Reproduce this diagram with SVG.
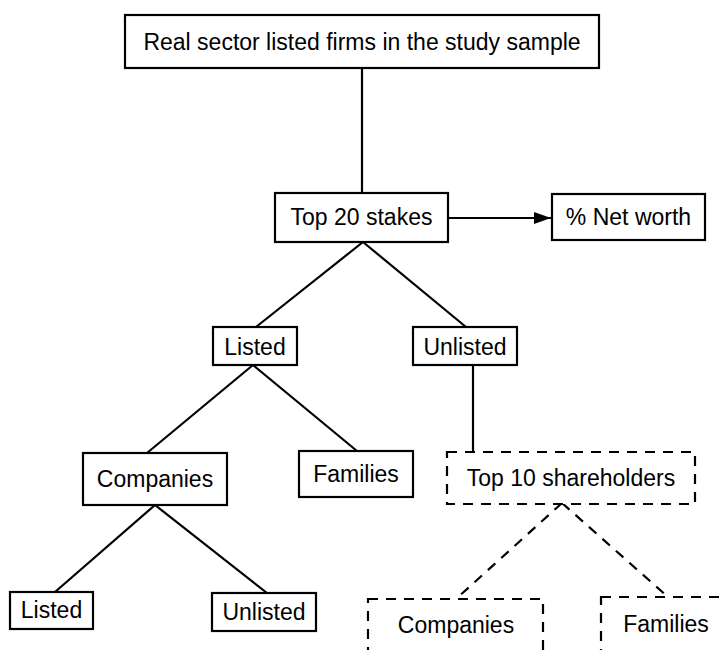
<svg xmlns="http://www.w3.org/2000/svg" width="725" height="650" viewBox="0 0 725 650">
  <style>
    .box { fill: #ffffff; stroke: #000000; stroke-width: 2.2; }
    .dash { fill: #ffffff; stroke: #000000; stroke-width: 2.2; stroke-dasharray: 10 8; }
    .lbl { font-family: "Liberation Sans", Arial, sans-serif; font-size: 23px; fill: #000000; text-anchor: middle; }
    .edge { stroke: #000000; stroke-width: 2.2; fill: none; }
    .edge-dash { stroke: #000000; stroke-width: 2.2; fill: none; stroke-dasharray: 10 8; }
  </style>
  <defs>
    <marker id="arrow" markerWidth="17" markerHeight="12" refX="17" refY="6" orient="auto" markerUnits="userSpaceOnUse" viewBox="0 0 17 12">
      <path d="M0,0 L17,6 L0,12 Z" fill="#000000"/>
    </marker>
  </defs>
  <rect width="725" height="650" fill="#ffffff"/>

  <g id="connectors">
    <line class="edge" x1="362" y1="68" x2="362" y2="193"/>
    <line class="edge" x1="448" y1="218" x2="551" y2="218" marker-end="url(#arrow)"/>
    <line class="edge" x1="363" y1="242" x2="256" y2="327"/>
    <line class="edge" x1="363" y1="242" x2="466" y2="327"/>
    <line class="edge" x1="253" y1="365" x2="147" y2="453"/>
    <line class="edge" x1="253" y1="365" x2="357" y2="451"/>
    <line class="edge" x1="473" y1="365" x2="473" y2="452"/>
    <line class="edge" x1="155" y1="505" x2="55" y2="592"/>
    <line class="edge" x1="155" y1="505" x2="267" y2="593"/>
    <line class="edge-dash" x1="562" y1="503" x2="456" y2="599"/>
    <line class="edge-dash" x1="562" y1="503" x2="668" y2="597"/>
  </g>

  <g id="node-sample">
    <rect class="box" x="125" y="15" width="474" height="53"/>
    <text class="lbl" x="362" y="50">Real sector listed firms in the study sample</text>
  </g>
  <g id="node-top20">
    <rect class="box" x="275" y="193" width="173" height="49"/>
    <text class="lbl" x="361.5" y="225">Top 20 stakes</text>
  </g>
  <g id="node-networth">
    <rect class="box" x="552" y="194" width="153" height="46"/>
    <text class="lbl" x="628.5" y="225">% Net worth</text>
  </g>
  <g id="node-listed">
    <rect class="box" x="213" y="327" width="84" height="38"/>
    <text class="lbl" x="255" y="355">Listed</text>
  </g>
  <g id="node-unlisted">
    <rect class="box" x="413" y="327" width="104" height="38"/>
    <text class="lbl" x="465" y="355">Unlisted</text>
  </g>
  <g id="node-companies">
    <rect class="box" x="83" y="453" width="144" height="52"/>
    <text class="lbl" x="155" y="487">Companies</text>
  </g>
  <g id="node-families">
    <rect class="box" x="299" y="451" width="114" height="46"/>
    <text class="lbl" x="356" y="482">Families</text>
  </g>
  <g id="node-top10">
    <rect class="dash" x="447" y="452" width="248" height="52"/>
    <text class="lbl" x="571" y="486">Top 10 shareholders</text>
  </g>
  <g id="node-companies-listed">
    <rect class="box" x="10" y="592" width="83" height="37"/>
    <text class="lbl" x="51.5" y="618">Listed</text>
  </g>
  <g id="node-companies-unlisted">
    <rect class="box" x="212" y="593" width="104" height="38"/>
    <text class="lbl" x="264" y="620">Unlisted</text>
  </g>
  <g id="node-sh-companies">
    <rect class="dash" x="368" y="599" width="175" height="70"/>
    <text class="lbl" x="456" y="633">Companies</text>
  </g>
  <g id="node-sh-families">
    <rect class="dash" x="601" y="597" width="150" height="70"/>
    <text class="lbl" x="666" y="632">Families</text>
  </g>
</svg>
